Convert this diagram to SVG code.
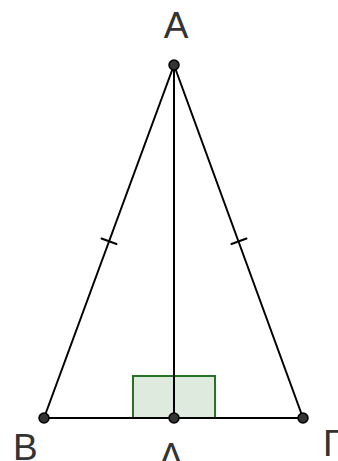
<svg xmlns="http://www.w3.org/2000/svg" width="338" height="461" viewBox="0 0 338 461">
<style>
.ln{stroke:#000;stroke-width:2;fill:none;stroke-linecap:round}
.pt{fill:#333;stroke:#000;stroke-width:1.5}
.lb{font-family:"Liberation Sans",Arial,sans-serif;font-size:37px;fill:#333}
.ra{fill:#dfeadf;stroke:#267326;stroke-width:2}
</style>
<rect width="338" height="461" fill="#fff"/>
<g id="right-angle"><rect class="ra" x="133" y="376" width="82" height="42"/></g>
<g id="connectors">
<line class="ln" x1="174" y1="65" x2="44" y2="418"/>
<line class="ln" x1="174" y1="65" x2="303" y2="418"/>
<line class="ln" x1="44" y1="418" x2="303" y2="418"/>
<line class="ln" x1="174" y1="65" x2="174" y2="418"/>
<line class="ln" x1="101.5" y1="238.5" x2="116.5" y2="244"/>
<line class="ln" x1="231.5" y1="244" x2="246.5" y2="238.5"/>
</g>
<g id="A"><circle class="pt" cx="174" cy="65" r="5"/><text class="lb" x="176" y="38" text-anchor="middle">A</text></g>
<g id="B"><circle class="pt" cx="44" cy="418" r="5"/><text class="lb" x="13" y="460">B</text></g>
<g id="Λ"><circle class="pt" cx="174" cy="418" r="5"/><text class="lb" x="171" y="469" text-anchor="middle">Λ</text></g>
<g id="Γ"><circle class="pt" cx="303" cy="418" r="5"/><text class="lb" x="323" y="456">Γ</text></g>
</svg>
